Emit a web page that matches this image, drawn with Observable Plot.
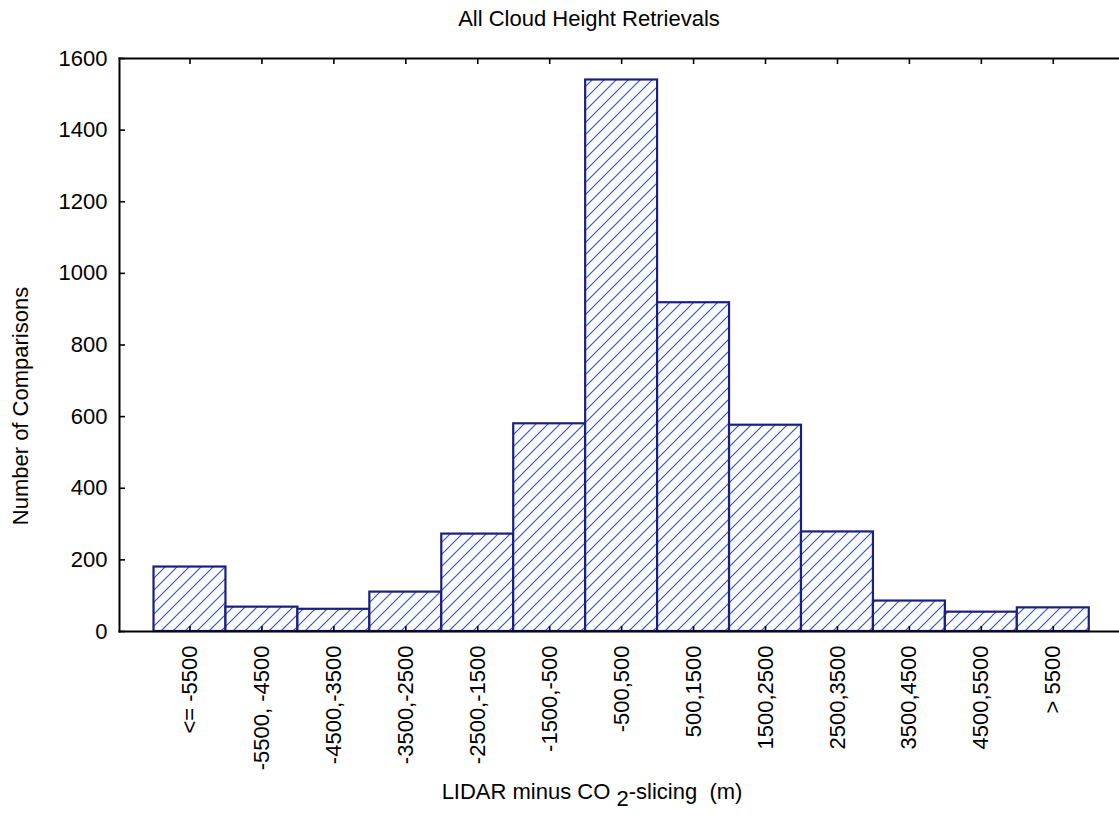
<!DOCTYPE html>
<html>
<head>
<meta charset="utf-8">
<script src="https://cdn.jsdelivr.net/npm/d3@7"></script>
<script src="https://cdn.jsdelivr.net/npm/@observablehq/plot@0.6"></script>
<style>
  html, body { margin: 0; padding: 0; background: #fff; }
  #chart svg { display: block; }
</style>
</head>
<body>
<div id="chart"></div>
<script>
const categories = ["<= -5500", "-5500, -4500", "-4500,-3500", "-3500,-2500", "-2500,-1500",
  "-1500,-500", "-500,500", "500,1500", "1500,2500", "2500,3500", "3500,4500", "4500,5500", "> 5500"];
const counts = [180, 68, 62, 110, 272, 580, 1540, 918, 576, 278, 85, 54, 66];
const yTicks = [0, 200, 400, 600, 800, 1000, 1200, 1400, 1600];
const titleText = "All Cloud Height Retrievals";
const yLabel = "Number of Comparisons";

const data = categories.map((c, i) => ({bin: c, count: counts[i]}));
const font = "'Liberation Sans', Arial, Helvetica, sans-serif";

const plot = Plot.plot({
  width: 1119,
  height: 820,
  marginTop: 58,
  marginBottom: 189,
  marginLeft: 119,
  marginRight: 0,
  style: {fontFamily: font, fontSize: "22px", background: "#fff", color: "#000", overflow: "visible"},
  x: {domain: categories, paddingInner: 0, paddingOuter: 0.45, align: 0.533, round: false, label: null},
  y: {domain: [0, 1600], label: null},
  marks: [
    Plot.barY(data, {x: "bin", y: "count", fill: "url(#hatch)", stroke: "#1b1f80", strokeWidth: 2.2, insetLeft: 0, insetRight: 0}),
    Plot.axisY(yTicks, {anchor: "left", tickSize: -6, tickFormat: () => "", strokeWidth: 1.6}),
    Plot.axisY(yTicks, {anchor: "left", tickSize: 0, tickPadding: 12, tickFormat: d => String(d), fontSize: 22}),
    Plot.axisX({anchor: "bottom", tickSize: -5, tickFormat: () => "", strokeWidth: 1.6}),
    Plot.axisX({anchor: "top", tickSize: -5, tickFormat: () => "", strokeWidth: 1.6}),
    Plot.axisX({anchor: "bottom", tickSize: 0, tickPadding: 14, tickRotate: -90, fontSize: 22}),
    Plot.frame({anchor: "left", strokeWidth: 2}),
    Plot.frame({anchor: "top", strokeWidth: 2}),
    Plot.frame({anchor: "bottom", strokeWidth: 2})
  ]
});

const svg = d3.select(plot);
const defs = svg.insert("defs", ":first-child");
const pat = defs.append("pattern")
  .attr("id", "hatch")
  .attr("patternUnits", "userSpaceOnUse")
  .attr("width", 12).attr("height", 12);
pat.append("rect").attr("width", 12).attr("height", 12).attr("fill", "#fff");
pat.append("path")
  .attr("d", "M-3,3 L3,-3 M0,12 L12,0 M9,15 L15,9")
  .attr("stroke", "#3556d6")
  .attr("stroke-width", 1.2)
  .attr("fill", "none");

// title
svg.append("text")
  .attr("x", 589).attr("y", 26)
  .attr("text-anchor", "middle")
  .attr("font-family", font).attr("font-size", 22).attr("fill", "#000")
  .text(titleText);

// y-axis title
svg.append("text")
  .attr("transform", "translate(28,406) rotate(-90)")
  .attr("text-anchor", "middle")
  .attr("font-family", font).attr("font-size", 22).attr("fill", "#000")
  .text(yLabel);

// x-axis title with subscript
const xt = svg.append("text")
  .attr("x", 592).attr("y", 799)
  .attr("text-anchor", "middle")
  .attr("font-family", font)
  .attr("font-size", 22)
  .attr("fill", "#000")
  .attr("xml:space", "preserve")
  .style("white-space", "pre");
xt.append("tspan").text("LIDAR minus CO ");
xt.append("tspan").attr("dy", 7).text("2");
xt.append("tspan").attr("dy", -7).text("-slicing  (m)");

document.getElementById("chart").appendChild(plot);
</script>
</body>
</html>
